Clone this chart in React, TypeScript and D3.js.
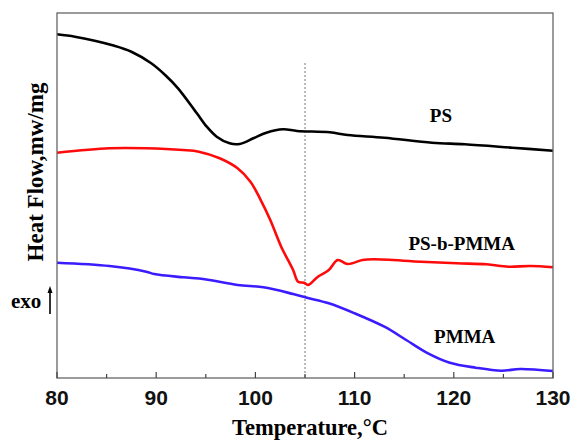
import React, { useEffect, useRef } from "react";
import * as d3 from "d3";

// temperature (°C) and heat flow (arbitrary units, curves offset as in the plot)
const psTemp = [80, 81.8, 83.8, 85.5, 87.5, 89.5, 90.9, 92.2, 94.1, 95.1, 96.1, 97.4, 98.4, 99.8, 101.1, 102.8, 104.2, 107.5, 109.3, 113, 117.8, 121.1, 125.9, 130];
const psFlow = [3.437, 3.413, 3.373, 3.33, 3.263, 3.147, 3.03, 2.897, 2.647, 2.513, 2.413, 2.347, 2.34, 2.397, 2.453, 2.487, 2.47, 2.457, 2.43, 2.403, 2.353, 2.337, 2.303, 2.273];

const blockTemp = [80, 85.3, 89, 92.7, 94.3, 96.4, 98.2, 99.5, 100.5, 101.5, 102.6, 103.8, 104.3, 104.9, 105.3, 106.3, 107.4, 108.3, 109.3, 110.8, 111.9, 116.7, 120.3, 123.3, 125.5, 127.7, 130];
const blockFlow = [2.253, 2.297, 2.297, 2.28, 2.263, 2.197, 2.097, 1.963, 1.787, 1.58, 1.313, 1.08, 0.963, 0.953, 0.93, 1.013, 1.08, 1.18, 1.14, 1.18, 1.187, 1.163, 1.147, 1.137, 1.113, 1.12, 1.107];

const pmmaTemp = [80, 85.3, 89, 89.8, 92.7, 94.9, 98.2, 100.8, 103.8, 105.2, 107.4, 110, 113, 115.2, 117.4, 119.6, 122.2, 124.8, 126.7, 130];
const pmmaFlow = [1.153, 1.12, 1.063, 1.04, 1.007, 0.987, 0.93, 0.907, 0.84, 0.803, 0.747, 0.647, 0.513, 0.38, 0.247, 0.153, 0.103, 0.073, 0.09, 0.07];

const xTicks = [80, 90, 100, 110, 120, 130];
const minorTicks = [85, 95, 105, 115, 125];
const markerTemp = 105;

const series = [
  { name: "PS", temp: psTemp, flow: psFlow, color: "#000000", labelAt: [118.7, 2.563] },
  { name: "PS-b-PMMA", temp: blockTemp, flow: blockFlow, color: "#ff0a0a", labelAt: [120.8, 1.28] },
  { name: "PMMA", temp: pmmaTemp, flow: pmmaFlow, color: "#3a1cff", labelAt: [121.1, 0.347] },
];

export default function App() {
  const ref = useRef<SVGSVGElement>(null);

  useEffect(() => {
    const width = 573, height = 440;
    const margin = { top: 13, right: 20, bottom: 62, left: 57 };
    const svg = d3.select(ref.current);
    svg.selectAll("*").remove();

    const x = d3.scaleLinear().domain([80, 130]).range([margin.left, width - margin.right]);
    const y = d3.scaleLinear().domain([0, 3.65]).range([height - margin.bottom, margin.top]);
    const serif = "'Liberation Serif', 'Times New Roman', serif";

    svg.append("rect").attr("width", width).attr("height", height).attr("fill", "#fff");

    // dotted marker line
    svg.append("line")
      .attr("x1", x(markerTemp)).attr("x2", x(markerTemp))
      .attr("y1", y(3.15)).attr("y2", y(0))
      .attr("stroke", "#555").attr("stroke-width", 0.8)
      .attr("stroke-dasharray", "2,2");

    const line = d3.line<[number, number]>()
      .x(d => x(d[0]))
      .y(d => y(d[1]))
      .curve(d3.curveCatmullRom.alpha(0.5));

    series.forEach(s => {
      const pts = s.temp.map((t, i) => [t, s.flow[i]] as [number, number]);
      svg.append("path")
        .attr("d", line(pts))
        .attr("fill", "none")
        .attr("stroke", s.color)
        .attr("stroke-width", 2.6)
        .attr("stroke-linejoin", "round");
      svg.append("text")
        .attr("x", x(s.labelAt[0])).attr("y", y(s.labelAt[1]))
        .attr("text-anchor", "middle")
        .attr("font-family", serif).attr("font-weight", "bold")
        .attr("font-size", 19)
        .text(s.name);
    });

    // frame
    svg.append("rect")
      .attr("x", margin.left).attr("y", margin.top)
      .attr("width", width - margin.left - margin.right)
      .attr("height", height - margin.top - margin.bottom)
      .attr("fill", "none").attr("stroke", "#666").attr("stroke-width", 1.3);

    const xAxis = svg.append("g").attr("transform", `translate(0,${height - margin.bottom})`);
    xAxis.selectAll(".major").data(xTicks).join("line")
      .attr("x1", d => x(d)).attr("x2", d => x(d))
      .attr("y1", 0).attr("y2", -6)
      .attr("stroke", "#444").attr("stroke-width", 1.2);
    xAxis.selectAll(".minor").data(minorTicks).join("line")
      .attr("x1", d => x(d)).attr("x2", d => x(d))
      .attr("y1", 0).attr("y2", -4)
      .attr("stroke", "#444").attr("stroke-width", 1.2);
    xAxis.selectAll("text").data(xTicks).join("text")
      .attr("x", d => x(d)).attr("y", 27)
      .attr("text-anchor", "middle")
      .attr("font-family", "'Liberation Sans', Arial, sans-serif")
      .attr("font-weight", "bold").attr("font-size", 21)
      .attr("fill", "#111")
      .text(d => d);

    svg.append("text")
      .attr("x", 310).attr("y", 435)
      .attr("text-anchor", "middle")
      .attr("font-family", serif).attr("font-weight", "bold").attr("font-size", 22.5)
      .text("Temperature,°C");

    svg.append("text")
      .attr("transform", `translate(43,172) rotate(-90)`)
      .attr("text-anchor", "middle")
      .attr("font-family", serif).attr("font-weight", "bold").attr("font-size", 23)
      .text("Heat Flow,mw/mg");

    svg.append("text")
      .attr("x", 11).attr("y", 308)
      .attr("font-family", serif).attr("font-weight", "bold").attr("font-size", 21)
      .text("exo");

    svg.append("line")
      .attr("x1", 50).attr("x2", 50).attr("y1", 314).attr("y2", 289)
      .attr("stroke", "#000").attr("stroke-width", 1.6);
    svg.append("path")
      .attr("d", "M47.5,293 L50,286 L52.5,293 Z")
      .attr("fill", "#000");
  }, []);

  return (
    <svg ref={ref} width={573} height={440}
      style={{ position: "absolute", left: 0, top: 0, display: "block" }} />
  );
}
